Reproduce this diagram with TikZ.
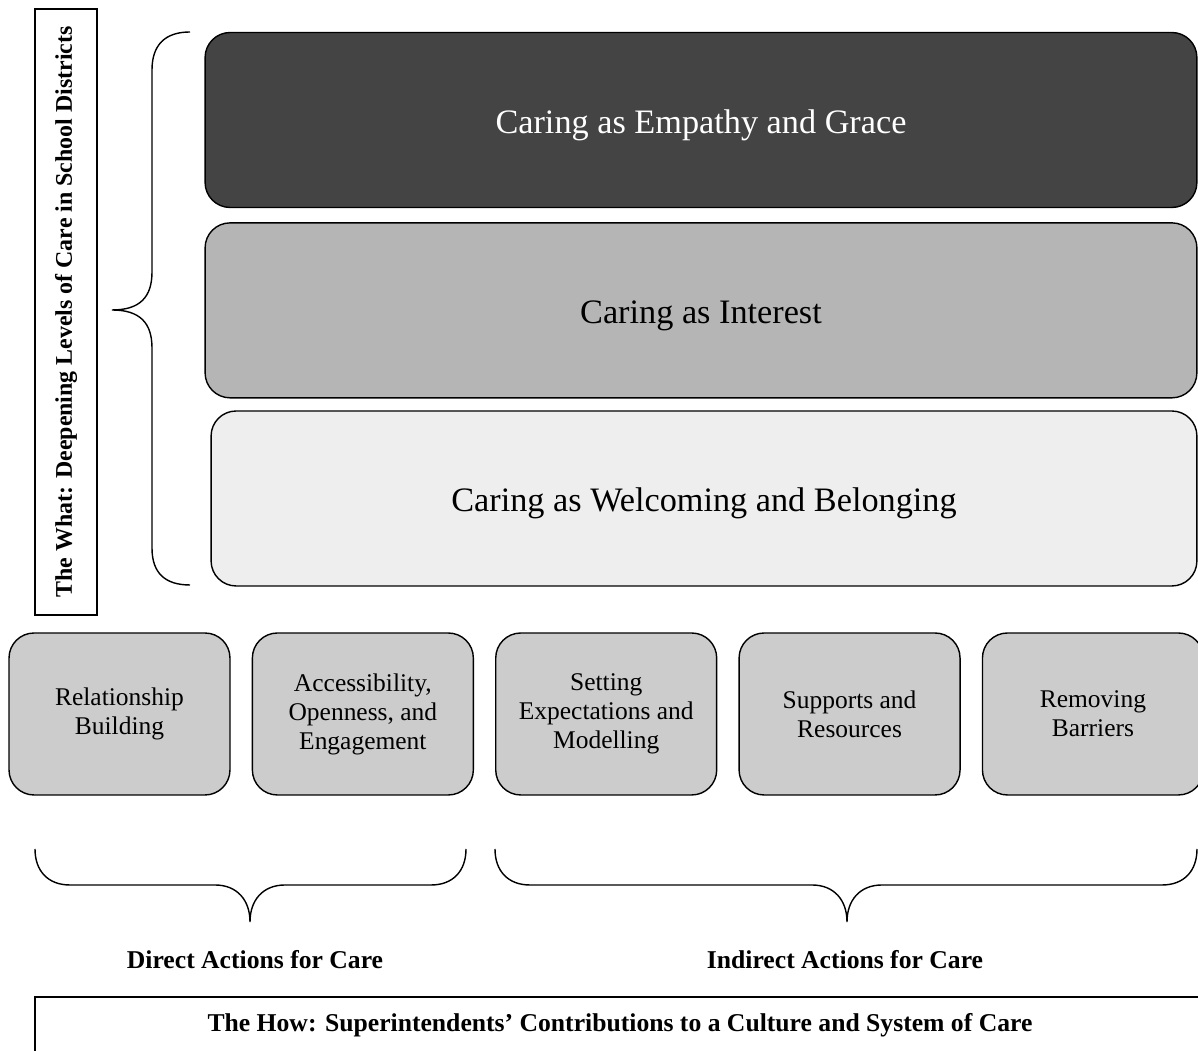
\documentclass[tikz,border=0pt]{standalone}
\usepackage{fontspec}
\setmainfont{Liberation Serif}
\usetikzlibrary{positioning}

\definecolor{levelthree}{HTML}{444444}
\definecolor{leveltwo}{HTML}{B5B5B5}
\definecolor{levelone}{HTML}{EEEEEE}
\definecolor{actgray}{HTML}{CCCCCC}

\begin{document}
\begin{tikzpicture}[x=0.02cm, y=0.02cm, line width=0.8pt,
    level/.style={rectangle, rounded corners=0.5cm, draw, minimum width=19.84cm, minimum height=3.5cm, text height=19pt, text depth=4pt, font=\fontsize{19.5}{23}\selectfont},
    action/.style={rectangle, rounded corners=0.5cm, draw, fill=actgray, align=center, minimum width=4.42cm, minimum height=3.24cm, font=\fontsize{14.5}{16.5}\selectfont},
    grouptitle/.style={font=\bfseries\fontsize{14.6}{17}\selectfont}]
      \useasboundingbox (0,0) rectangle (1198,1051);
      \clip (0,0) rectangle (1198,1051);

      % Levels of care (stacked)
      \node[level, fill=levelthree, text=white] (grace) at (701,931) {Caring as Empathy and Grace};
      \node[level, fill=leveltwo, below=0.28cm of grace] (interest) {Caring as Interest};
      \node[level, fill=levelone, minimum width=19.72cm] (belong) at (704,552.5) {Caring as Welcoming and Belonging};

      % The what (side label)
      \node[draw, rotate=90, minimum width=12.12cm, minimum height=1.24cm, font=\bfseries\fontsize{13.6}{17}\selectfont] (what) at (66,739) {The What: Deepening Levels of Care in School Districts};

      % Actions
      \node[action] (rel) at (119.5,337) {Relationship\\Building};
      \node[action, right=0.42cm of rel] (acc) {Accessibility,\\Openness, and\\Engagement};
      \node[action, right=0.42cm of acc] (set) {Setting\\Expectations and\\Modelling};
      \node[action, right=0.42cm of set] (sup) {Supports and\\Resources};
      \node[action, right=0.42cm of sup] (rem) {Removing\\Barriers};

      % Group titles
      \node[grouptitle] (direct) at (255,91) {Direct Actions for Care};
      \node[grouptitle] (indirect) at (845,91) {Indirect Actions for Care};
      \node[grouptitle, draw, minimum width=23.4cm, minimum height=1.12cm] (how) at (620,26) {The How: Superintendents' Contributions to a Culture and System of Care};

      % Braces
      \draw (190,1019) .. controls (165,1019) and (152,1006) .. (152,981) -- (152,779)
            .. controls (152,754) and (140,741) .. (112,741)
            .. controls (140,741) and (152,728) .. (152,703) -- (152,503)
            .. controls (152,478) and (165,466) .. (190,466);
      \draw (35,202) .. controls (35,180) and (48,166) .. (70,166) -- (215,166)
            .. controls (237,166) and (250,151) .. (250,129)
            .. controls (250,151) and (263,166) .. (285,166) -- (431,166)
            .. controls (453,166) and (466,180) .. (466,202);
      \draw (495,202) .. controls (495,180) and (508,166) .. (530,166) -- (812,166)
            .. controls (834,166) and (847,151) .. (847,129)
            .. controls (847,151) and (860,166) .. (882,166) -- (1162,166)
            .. controls (1184,166) and (1197,180) .. (1197,202);
    \end{tikzpicture}
\end{document}
